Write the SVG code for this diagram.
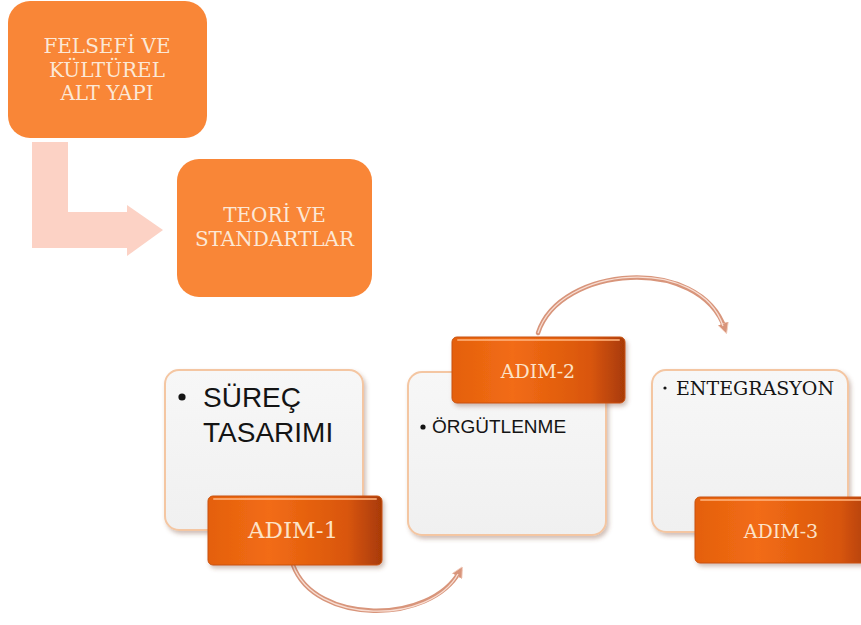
<svg xmlns="http://www.w3.org/2000/svg" width="861" height="625" viewBox="0 0 861 625">
<defs>
<style>
.obox{fill:#F98637;}
.otxt{font-family:"DejaVu Serif","Liberation Serif",serif;font-size:20px;fill:#FCE8D6;text-anchor:middle;}
.panel{fill:url(#pg);stroke:#F4C6A2;stroke-width:2;filter:url(#sh);}
.bar{fill:url(#bg);stroke:#C9530F;stroke-width:1;filter:url(#sh);}
.hl{fill:none;stroke:#FFB27A;stroke-width:2;stroke-linecap:round;opacity:0.8;}
.btxt{font-family:"DejaVu Serif","Liberation Serif",serif;fill:#FCE3C8;text-anchor:middle;}
.sans{font-family:"Liberation Sans","Noto Sans",sans-serif;fill:#141414;}
.arc{fill:none;stroke:#D8957B;stroke-width:4.5;stroke-linecap:round;}
.arcin{fill:none;stroke:#F8DDD2;stroke-width:1.3;}
</style>
<linearGradient id="pg" x1="0" y1="0" x2="0" y2="1">
<stop offset="0" stop-color="#F7F7F7"/>
<stop offset="1" stop-color="#F0F0F0"/>
</linearGradient>
<linearGradient id="bg" x1="0" y1="0" x2="1" y2="0">
<stop offset="0" stop-color="#E4600E"/>
<stop offset="0.35" stop-color="#F26C14"/>
<stop offset="0.8" stop-color="#D9560C"/>
<stop offset="1" stop-color="#A83A06"/>
</linearGradient>
<filter id="sh" x="-10%" y="-10%" width="125%" height="130%">
<feDropShadow dx="2" dy="3" stdDeviation="2" flood-color="#7a4a30" flood-opacity="0.35"/>
</filter>
<marker id="ah" markerWidth="11" markerHeight="11" refX="6" refY="5.5" orient="auto" markerUnits="userSpaceOnUse" viewBox="0 0 11 11">
<path d="M0,0 L11,5.5 L0,11 Z" fill="#D8957B" stroke="#F3CFC0" stroke-width="0.8"/>
</marker>
</defs>
<rect width="861" height="625" fill="#FFFFFF"/>

<g id="connectors">
<polygon id="bent-arrow" points="32,142 68,142 68,212 127,212 127,205 163,230 127,256 127,248 32,248" fill="#FCD2C5"/>
<path class="arc" d="M293,565 C315,625 430,625 460,571" marker-end="url(#ah)"/>
<path class="arcin" d="M293,565 C315,625 430,625 458,574"/>
<path class="arc" d="M538,333 C560,265 700,255 725,329" marker-end="url(#ah)"/>
<path class="arcin" d="M538,333 C560,265 700,255 723,326"/>
</g>

<g id="felsefi">
<rect class="obox" x="8" y="1" width="199" height="137" rx="22"/>
<text class="otxt" x="107" y="53">FELSEFİ VE</text>
<text class="otxt" x="107" y="77">KÜLTÜREL</text>
<text class="otxt" x="107" y="100">ALT YAPI</text>
</g>

<g id="teori">
<rect class="obox" x="177" y="159" width="195" height="138" rx="22"/>
<text class="otxt" x="274.5" y="222">TEORİ VE</text>
<text class="otxt" x="274.5" y="246">STANDARTLAR</text>
</g>

<g id="surec">
<rect class="panel" x="165" y="370" width="198" height="160" rx="14"/>
<circle cx="182" cy="397" r="3.6" fill="#141414"/>
<text class="sans" x="203" y="407" font-size="28">SÜREÇ</text>
<text class="sans" x="203" y="442" font-size="28">TASARIMI</text>
</g>

<g id="orgutlenme">
<rect class="panel" x="408" y="372" width="198" height="163" rx="14"/>
<circle cx="423" cy="427" r="2.6" fill="#141414"/>
<text class="sans" x="432" y="433" font-size="19">ÖRGÜTLENME</text>
</g>

<g id="entegrasyon">
<rect class="panel" x="652" y="370" width="196" height="162" rx="14"/>
<circle cx="665" cy="388" r="1.6" fill="#141414"/>
<text x="676" y="395" font-family="DejaVu Serif, Liberation Serif, serif" font-size="19" fill="#141414">ENTEGRASYON</text>
</g>

<g id="adim1">
<rect class="bar" x="208" y="496" width="174" height="69" rx="5"/>
<line class="hl" x1="214" y1="499" x2="376" y2="499"/>
<text class="btxt" x="293" y="538" font-size="23">ADIM-1</text>
</g>

<g id="adim2">
<rect class="bar" x="452" y="337" width="173" height="66" rx="5"/>
<line class="hl" x1="458" y1="340" x2="619" y2="340"/>
<text class="btxt" x="538" y="378" font-size="19">ADIM-2</text>
</g>

<g id="adim3">
<rect class="bar" x="695" y="497" width="180" height="66" rx="5"/>
<line class="hl" x1="701" y1="500" x2="861" y2="500"/>
<text class="btxt" x="781" y="538" font-size="19">ADIM-3</text>
</g>
</svg>
